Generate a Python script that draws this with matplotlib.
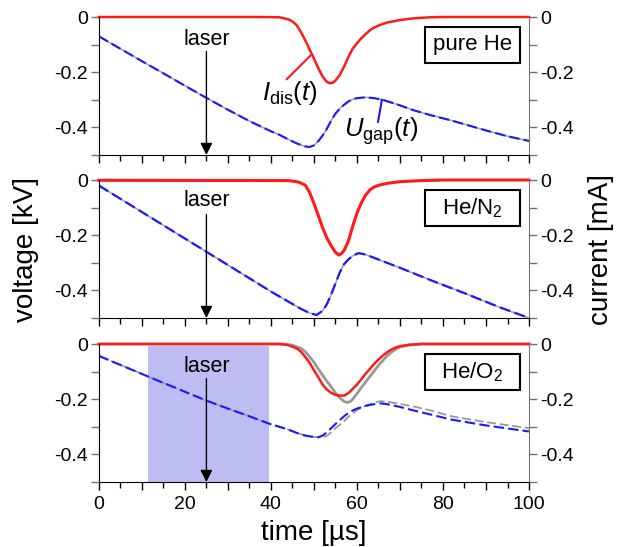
import numpy as np
import matplotlib.pyplot as plt
from matplotlib.patches import Rectangle

plt.rcParams['font.family'] = 'Liberation Sans'
plt.rcParams['mathtext.fontset'] = 'custom'
plt.rcParams['mathtext.rm'] = 'Liberation Sans'
plt.rcParams['mathtext.it'] = 'Liberation Sans:italic'
plt.rcParams['font.size'] = 11

# ---- pure He ----
t_i1 = [0, 38, 42, 44, 45, 46, 47, 48, 49, 50, 51, 52, 53, 53.7, 54.5, 55, 56, 57, 58, 59, 60, 61, 62, 63, 64,
        65.3, 67, 70, 73, 77, 80, 100]
i1 = [0, 0, -0.001, -0.008, -0.016, -0.03, -0.055, -0.085, -0.118, -0.15, -0.185, -0.215, -0.235, -0.24, -0.237,
      -0.23, -0.21, -0.18, -0.145, -0.115, -0.095, -0.077, -0.062, -0.048, -0.038, -0.029, -0.02, -0.011, -0.005,
      -0.001, 0, 0]
t_u1 = [0, 5, 10, 15, 20, 25, 30, 35, 40, 42, 44, 46, 48, 49, 50, 51, 52, 53, 54, 55, 56, 57, 58, 59, 60, 62, 64,
        66, 70, 73, 77, 82, 86, 90, 95, 100]
u1 = [-0.07, -0.115, -0.16, -0.204, -0.249, -0.293, -0.336, -0.377, -0.414, -0.427, -0.443, -0.458, -0.469, -0.471,
      -0.465, -0.45, -0.43, -0.405, -0.375, -0.35, -0.332, -0.318, -0.306, -0.298, -0.294, -0.291, -0.294, -0.3,
      -0.32, -0.337, -0.355, -0.375, -0.393, -0.411, -0.432, -0.449]

# ---- He/N2 ----
t_i2 = [0, 44, 46, 47, 48, 49, 50, 51, 52, 53, 54, 55, 55.8, 56.5, 57, 58, 59, 60, 61, 62, 63, 64, 65.3, 67, 70,
        75, 80, 100]
i2 = [-0.001, -0.002, -0.006, -0.011, -0.019, -0.045, -0.085, -0.128, -0.172, -0.21, -0.238, -0.262, -0.272,
      -0.265, -0.255, -0.222, -0.168, -0.12, -0.083, -0.055, -0.036, -0.025, -0.018, -0.012, -0.006, -0.002, 0, 0]
t_u2 = [0, 10, 20, 30, 40, 44, 47, 49, 50.6, 52, 53, 54, 55, 56, 57, 58, 59, 60, 60.5, 62, 65, 70, 77, 85, 93, 100]
u2 = [-0.02, -0.116, -0.212, -0.308, -0.404, -0.44, -0.467, -0.482, -0.489, -0.474, -0.45, -0.415, -0.375, -0.335,
      -0.305, -0.288, -0.275, -0.267, -0.265, -0.27, -0.288, -0.318, -0.362, -0.41, -0.46, -0.5]

# ---- He/O2 ----
t_i3 = [0, 42, 44, 46, 47, 48, 49, 50, 51, 52, 53, 54, 55, 56, 57, 58, 59, 60, 61, 62, 63, 64, 65, 66, 67, 68, 69,
        70, 72, 75, 100]
i3 = [0, 0, -0.004, -0.016, -0.028, -0.047, -0.068, -0.095, -0.12, -0.147, -0.165, -0.177, -0.184, -0.187, -0.187,
      -0.178, -0.163, -0.147, -0.128, -0.108, -0.09, -0.072, -0.056, -0.042, -0.03, -0.02, -0.013, -0.008, -0.003,
      0, 0]
t_i3g = [0, 43, 45, 47, 48, 49, 50, 51, 52, 53, 54, 55, 56, 57, 57.7, 58.5, 59, 60, 61, 62, 63, 64, 65, 66, 67, 68,
         69, 70, 72, 75, 100]
i3g = [0, 0, -0.004, -0.016, -0.028, -0.046, -0.066, -0.09, -0.113, -0.135, -0.155, -0.177, -0.195, -0.208, -0.212,
       -0.208, -0.2, -0.18, -0.158, -0.138, -0.118, -0.098, -0.078, -0.06, -0.043, -0.03, -0.019, -0.011, -0.004,
       0, 0]
t_u3 = [0, 11, 20, 25, 30, 35, 40, 42, 44, 46, 48, 50, 51, 52, 53, 54, 55, 56, 57, 58, 59, 60, 62, 64, 65.5, 67,
        70, 73, 77, 82, 90, 100]
u3 = [-0.043, -0.115, -0.173, -0.205, -0.234, -0.262, -0.291, -0.3, -0.31, -0.322, -0.332, -0.337, -0.338, -0.332,
      -0.32, -0.305, -0.29, -0.276, -0.262, -0.25, -0.241, -0.234, -0.224, -0.218, -0.215, -0.218, -0.228, -0.24,
      -0.255, -0.274, -0.295, -0.317]
t_u3g = [0, 11, 20, 25, 30, 35, 40, 42, 44, 46, 48, 50, 52, 53, 54, 55, 56, 57, 58, 59, 60, 62, 64, 65.5, 67, 70,
         73, 77, 82, 90, 100]
u3g = [-0.043, -0.115, -0.173, -0.205, -0.234, -0.262, -0.291, -0.3, -0.31, -0.322, -0.331, -0.337, -0.338, -0.333,
       -0.32, -0.305, -0.293, -0.28, -0.264, -0.252, -0.24, -0.224, -0.212, -0.207, -0.209, -0.217, -0.226, -0.24,
       -0.262, -0.283, -0.305]

laser_t = 25
laser_span = [11.5, 39.5]
gases = ['pure He', 'He/N$_2$', 'He/O$_2$']

blue = '#1a1aff'
red = '#ff1a1a'

fig = plt.figure(figsize=[6.18, 5.47], dpi=100)
bottoms = [0.7166, 0.4186, 0.1188]
axs = [fig.add_axes([0.160, b, 0.696, 0.2523]) for b in bottoms]

for k, ax in enumerate(axs):
    ax.set_xlim(0, 100)
    ax.set_ylim(-0.5, 0)
    ax.spines['top'].set_visible(False)
    ax.spines['right'].set_color('0.45')
    ax.set_yticks([0, -0.2, -0.4])
    ax.set_yticklabels(['0', '-0.2', '-0.4'])
    ax.set_yticks([-0.1, -0.3, -0.5], minor=True)
    ax.set_xticks(np.arange(0, 101, 10))
    ax.set_xticks(np.arange(5, 100, 10), minor=True)
    if k == 2:
        ax.set_xticklabels(['0', '', '20', '', '40', '', '60', '', '80', '', '100'])
    else:
        ax.set_xticklabels([])
    ax.tick_params(which='both', direction='out', left=True, right=True, labelright=True, labelsize=14, width=1)
    ax.tick_params(axis='y', which='both', length=6, pad=2)
    ax.tick_params(axis='x', which='major', length=6, pad=4)
    ax.tick_params(axis='x', which='minor', length=4)
    ax.tick_params(axis='y', which='both', right=True, colors='0.45', labelcolor='k')
    ax.add_patch(Rectangle((75.8, -0.168), 22.1, 0.133, fill=False, ec='k', lw=1.5, zorder=5))
    ax.text(86.85, -0.101, gases[k], ha='center', va='center', fontsize=16, zorder=6)

# panel 1
ax = axs[0]
ax.plot(t_u1, u1, color='0.65', lw=1.2)
ax.plot(t_u1, u1, color=blue, lw=1.5, dashes=(5, 2))
ax.plot(t_i1, i1, color=red, lw=1.8, clip_on=False)
ax.plot([43.7, 49.3], [-0.225, -0.138], color=red, lw=1.5)
ax.text(37.9, -0.275, r'$I_{\rm dis}(t)$', fontsize=18.5, ha='left', va='center')
ax.plot([64.9, 65.8], [-0.38, -0.30], color=blue, lw=1.5)
ax.text(57.0, -0.415, r'$U_{\rm gap}(t)$', fontsize=18.5, ha='left', va='center')

# panel 2
ax = axs[1]
ax.plot(t_u2, u2, color='0.65', lw=1.2)
ax.plot(t_u2, u2, color=blue, lw=1.6, dashes=(5, 2))
ax.plot(t_i2, i2, color=red, lw=2.2, clip_on=False)

# panel 3
ax = axs[2]
ax.fill_between(laser_span, [-0.5, -0.5], [-0.006, -0.006], color='#bdbdf3', lw=0, zorder=0)
ax.plot(t_u3g, u3g, color='0.6', lw=1.3, dashes=(5, 2))
ax.plot(t_u3, u3, color=blue, lw=1.5, dashes=(5, 2))
ax.plot(t_i3g, i3g, color='0.6', lw=2.0, clip_on=False)
ax.plot(t_i3, i3, color=red, lw=1.8, clip_on=False)

for ax, ytxt in zip(axs, [-0.083, -0.075, -0.08]):
    ax.text(laser_t, ytxt, 'laser', ha='center', va='center', fontsize=15.5, zorder=6)
    ax.annotate('', xy=(laser_t, -0.5), xytext=(laser_t, -0.125),
                arrowprops=dict(arrowstyle='-|>', color='k', lw=1.0, mutation_scale=18, shrinkA=0, shrinkB=0),
                zorder=6)

axs[2].set_xlabel('time [µs]', fontsize=20, labelpad=5)
fig.text(0.042, 0.543, 'voltage [kV]', rotation=90, ha='center', va='center', fontsize=20)
fig.text(0.972, 0.543, 'current [mA]', rotation=90, ha='center', va='center', fontsize=20)

plt.savefig('out.png', dpi=100)
plt.close()
